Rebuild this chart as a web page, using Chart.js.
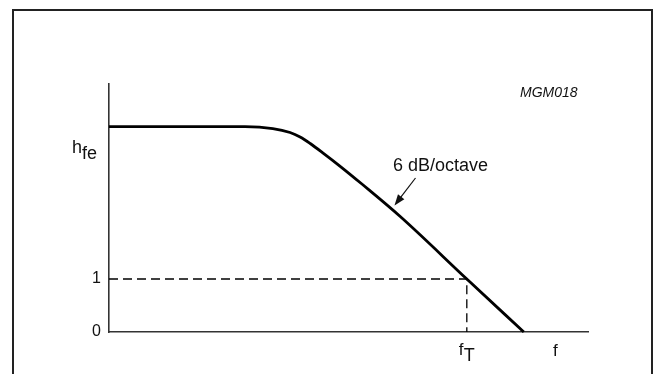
<!DOCTYPE html>
<html>
<head>
<meta charset="utf-8">
<script src="https://cdn.jsdelivr.net/npm/chart.js@4/dist/chart.umd.min.js"></script>
<style>
  html, body { margin: 0; padding: 0; background: #fff; }
  #wrap { width: 655px; height: 374px; }
</style>
</head>
<body>
<div id="wrap"><canvas id="hfeChart" width="655" height="374"></canvas></div>
<script>
// current gain vs frequency (arbitrary linear units on both axes)
const freq = [0, 2.84, 3.42, 3.78, 3.99, 4.20, 4.47, 4.82, 5.28, 6.08, 7.47, 8.66]
const hfe = [3.877, 3.877, 3.84, 3.764, 3.679, 3.557, 3.377, 3.132, 2.792, 2.179, 1, 0]

// transition frequency, where hfe drops to unity
const fT = 7.47
const unity = 1
const yTicks = [0, 1]

const FONT = "'Liberation Sans', Arial, Helvetica, sans-serif"
const INK = '#111'

const curve = freq.map((x, i) => ({ x: x, y: hfe[i] }))
const guide = [{ x: 0, y: unity }, { x: fT, y: unity }, { x: fT, y: 0 }]

const frame = {
    id: 'frame',
    beforeDraw(chart) {
        const ctx = chart.ctx
        ctx.save()
        ctx.fillStyle = '#fff'
        ctx.fillRect(0, 0, chart.width, chart.height)
        ctx.strokeStyle = '#222'
        ctx.lineWidth = 2
        ctx.strokeRect(13, 10, 639, 420)
        ctx.restore()
    },
    afterDraw(chart) {
        const ctx = chart.ctx
        const xs = chart.scales.x
        const ys = chart.scales.y
        const left = chart.chartArea.left
        ctx.save()
        ctx.fillStyle = INK

        // y tick labels
        ctx.font = '16px ' + FONT
        ctx.textAlign = 'right'
        ctx.textBaseline = 'middle'
        yTicks.forEach(v => ctx.fillText(String(v), left - 8, ys.getPixelForValue(v)))

        // hfe axis label
        ctx.textAlign = 'left'
        ctx.textBaseline = 'alphabetic'
        ctx.font = '18px ' + FONT
        ctx.fillText('h', 72, 153)
        ctx.fillText('fe', 82, 159)

        // fT and f on the frequency axis
        const xT = xs.getPixelForValue(fT)
        ctx.font = '17px ' + FONT
        ctx.fillText('f', xT - 8, 355)
        ctx.font = '18px ' + FONT
        ctx.fillText('T', xT - 3, 361)
        ctx.font = '17px ' + FONT
        ctx.fillText('f', 553, 356)

        // figure code
        ctx.font = 'italic 14px ' + FONT
        ctx.fillText('MGM018', 520, 97)

        // slope annotation with arrow
        ctx.font = '18px ' + FONT
        ctx.fillText('6 dB/octave', 393, 171)
        const x0 = 415.5, y0 = 178, x1 = 394.5, y1 = 205.5
        const ang = Math.atan2(y1 - y0, x1 - x0)
        ctx.strokeStyle = INK
        ctx.lineWidth = 1.2
        ctx.beginPath()
        ctx.moveTo(x0, y0)
        ctx.lineTo(x1 - 6 * Math.cos(ang), y1 - 6 * Math.sin(ang))
        ctx.stroke()
        ctx.beginPath()
        ctx.moveTo(x1, y1)
        ctx.lineTo(x1 - 11 * Math.cos(ang) + 4 * Math.sin(ang), y1 - 11 * Math.sin(ang) - 4 * Math.cos(ang))
        ctx.lineTo(x1 - 11 * Math.cos(ang) - 4 * Math.sin(ang), y1 - 11 * Math.sin(ang) + 4 * Math.cos(ang))
        ctx.closePath()
        ctx.fill()
        ctx.restore()
    },
}

new Chart(document.getElementById('hfeChart'), {
    type: 'scatter',
    data: {
        datasets: [
            {
                data: guide,
                showLine: true,
                borderColor: '#000',
                borderWidth: 1.3,
                borderDash: [9, 5],
                pointRadius: 0,
                fill: false,
            },
            {
                data: curve,
                showLine: true,
                borderColor: '#000',
                borderWidth: 2.8,
                cubicInterpolationMode: 'monotone',
                pointRadius: 0,
                fill: false,
            },
        ],
    },
    options: {
        responsive: false,
        animation: false,
        clip: false,
        layout: { padding: { left: 109, top: 84, right: 67, bottom: 42 } },
        plugins: { legend: { display: false }, tooltip: { enabled: false } },
        scales: {
            x: {
                type: 'linear',
                min: 0,
                max: 10,
                grid: { display: false, drawTicks: false },
                ticks: { display: false },
                border: { display: true, color: '#333', width: 1.6 },
            },
            y: {
                type: 'linear',
                min: 0,
                max: 4.68,
                grid: { display: false, drawTicks: false },
                ticks: { display: false },
                border: { display: true, color: '#333', width: 1.6 },
            },
        },
    },
    plugins: [frame],
})
</script>
</body>
</html>
